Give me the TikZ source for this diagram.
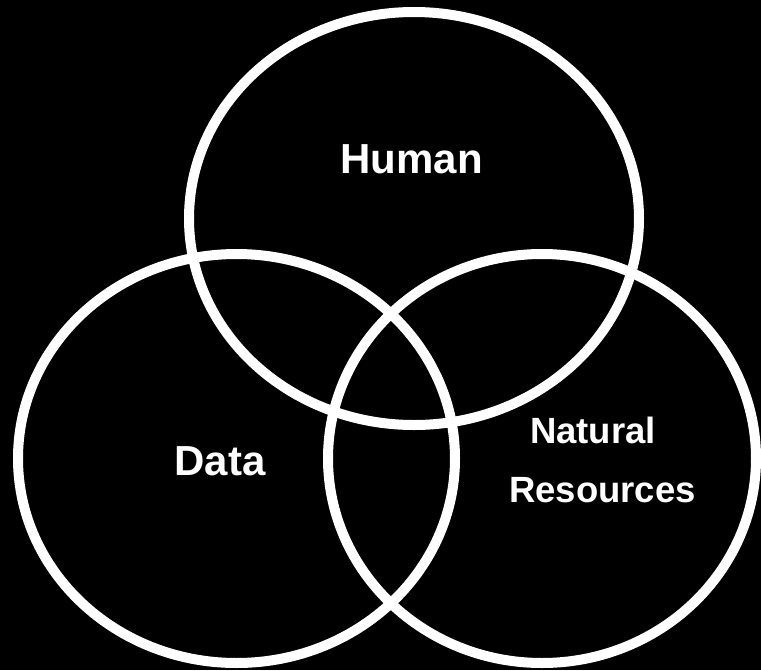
\documentclass[tikz,border=0pt]{standalone}
\usepackage{fontspec}
\setmainfont{Liberation Sans}
\begin{document}
\begin{tikzpicture}[x=1pt,y=-1pt,
  ring/.style={draw=white,line width=10pt},
  lbl/.style={text=white,font=\bfseries,inner sep=0pt,anchor=base},
  big/.style={font=\fontsize{42}{50}\selectfont\bfseries},
  small/.style={font=\fontsize{36.5}{44}\selectfont\bfseries}]
\fill[black] (0,0) rectangle (761,670);
\useasboundingbox (0,0) rectangle (761,670);
\draw[ring] (414,218.5) ellipse [x radius=225, y radius=206.5];
\draw[ring] (236.5,458.5) ellipse [x radius=218.5, y radius=204.5];
\draw[ring] (542,458.5) ellipse [x radius=214, y radius=204.5];
\node[lbl,big] (human) at (411.5,173) {Human};
\node[lbl,big] (data) at (220,475.5) {Data};
\node[lbl,small] (natural) at (593,443) {Natural};
\node[lbl,small] (resources) at (602.5,502) {Resources};
\end{tikzpicture}
\end{document}
